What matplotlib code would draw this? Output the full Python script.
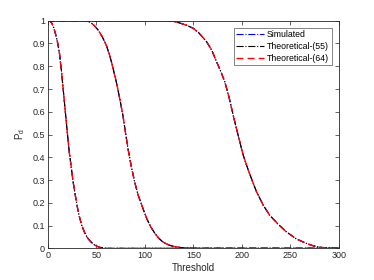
import numpy as np
import matplotlib
matplotlib.use("Agg")
import matplotlib.pyplot as plt

plt.rcParams['font.family'] = ['Liberation Sans', 'DejaVu Sans']
plt.rcParams['mathtext.default'] = 'regular'

# curves: threshold vs detection probability
t1 = [0, 2, 4, 6, 8, 10, 12, 14, 16, 18, 20, 22, 24, 26, 28, 30, 32, 35, 38, 41,
      44, 47, 50, 54, 58, 62, 100, 200, 300]
p1 = [1, 0.998, 0.99, 0.97, 0.94, 0.905, 0.855, 0.78, 0.69, 0.6, 0.51, 0.425, 0.36,
      0.293, 0.24, 0.19, 0.147, 0.1, 0.068, 0.045, 0.03, 0.018, 0.01, 0.004, 0.001,
      0, 0, 0, 0]

t2 = [0, 20, 40, 44, 48, 52, 56, 60, 63.6, 67, 70.5, 74, 77.3, 80, 82.5, 86, 89.4,
      93, 98, 102, 106, 110, 114, 118, 122, 126, 130, 136, 143, 150, 200, 300]
p2 = [1, 1, 1, 0.993, 0.978, 0.958, 0.93, 0.895, 0.85, 0.795, 0.732, 0.66, 0.586,
      0.51, 0.44, 0.36, 0.293, 0.235, 0.176, 0.13, 0.095, 0.068, 0.046, 0.03, 0.02,
      0.013, 0.008, 0.004, 0.002, 0, 0, 0]

t3 = [0, 50, 100, 125, 130, 136, 143, 149.8, 156, 163.6, 169, 173.9, 178, 182.4,
      187, 191, 194.5, 197.9, 201, 204.8, 210, 215.1, 222, 228.6, 237, 245.8, 256,
      266.4, 273, 280, 290, 300]
p3 = [1, 1, 1, 1, 0.997, 0.99, 0.98, 0.967, 0.945, 0.908, 0.87, 0.82, 0.78, 0.732,
      0.66, 0.586, 0.525, 0.468, 0.415, 0.366, 0.305, 0.249, 0.19, 0.146, 0.108,
      0.073, 0.042, 0.022, 0.012, 0.005, 0.001, 0]

curves = [(t1, p1), (t2, p2), (t3, p3)]

fig = plt.figure(figsize=(3.74, 2.8), dpi=100)
ax = fig.add_axes([0.128, 0.113, 0.778, 0.813])

for i, (t, p) in enumerate(curves):
    ax.plot(t, p, color='blue', linestyle='-.', linewidth=0.8,
            label='Simulated' if i == 0 else None)
    ax.plot(t, p, color='black', linestyle='-.', linewidth=0.8,
            label='Theoretical-(55)' if i == 0 else None)
    ax.plot(t, p, color='red', linestyle=(0, (5, 3)), linewidth=1.0,
            label='Theoretical-(64)' if i == 0 else None)

ax.set_xlim(0, 300)
ax.set_ylim(0, 1)
ax.set_xticks(np.arange(0, 301, 50))
ax.set_yticks(np.arange(0, 1.01, 0.1))
ax.set_yticklabels(['0', '0.1', '0.2', '0.3', '0.4', '0.5', '0.6', '0.7', '0.8', '0.9', '1'])
ax.tick_params(direction='in', length=3, width=0.5, labelsize=6.5, colors='#262626',
               top=True, right=True, pad=2)
for s in ax.spines.values():
    s.set_linewidth(0.6)
    s.set_color('#262626')
ax.set_xlabel('Threshold', fontsize=7, color='#262626', labelpad=2)
ax.set_ylabel('P$_d$', fontsize=7, color='#262626', labelpad=4)

leg = ax.legend(loc='upper right', fontsize=6.3, frameon=True, fancybox=False,
                edgecolor='#262626', handlelength=3.2, handletextpad=0.3,
                borderpad=0.3, labelspacing=0.3, borderaxespad=0.8)
leg.get_frame().set_linewidth(0.5)

fig.savefig('out.png', dpi=100)
